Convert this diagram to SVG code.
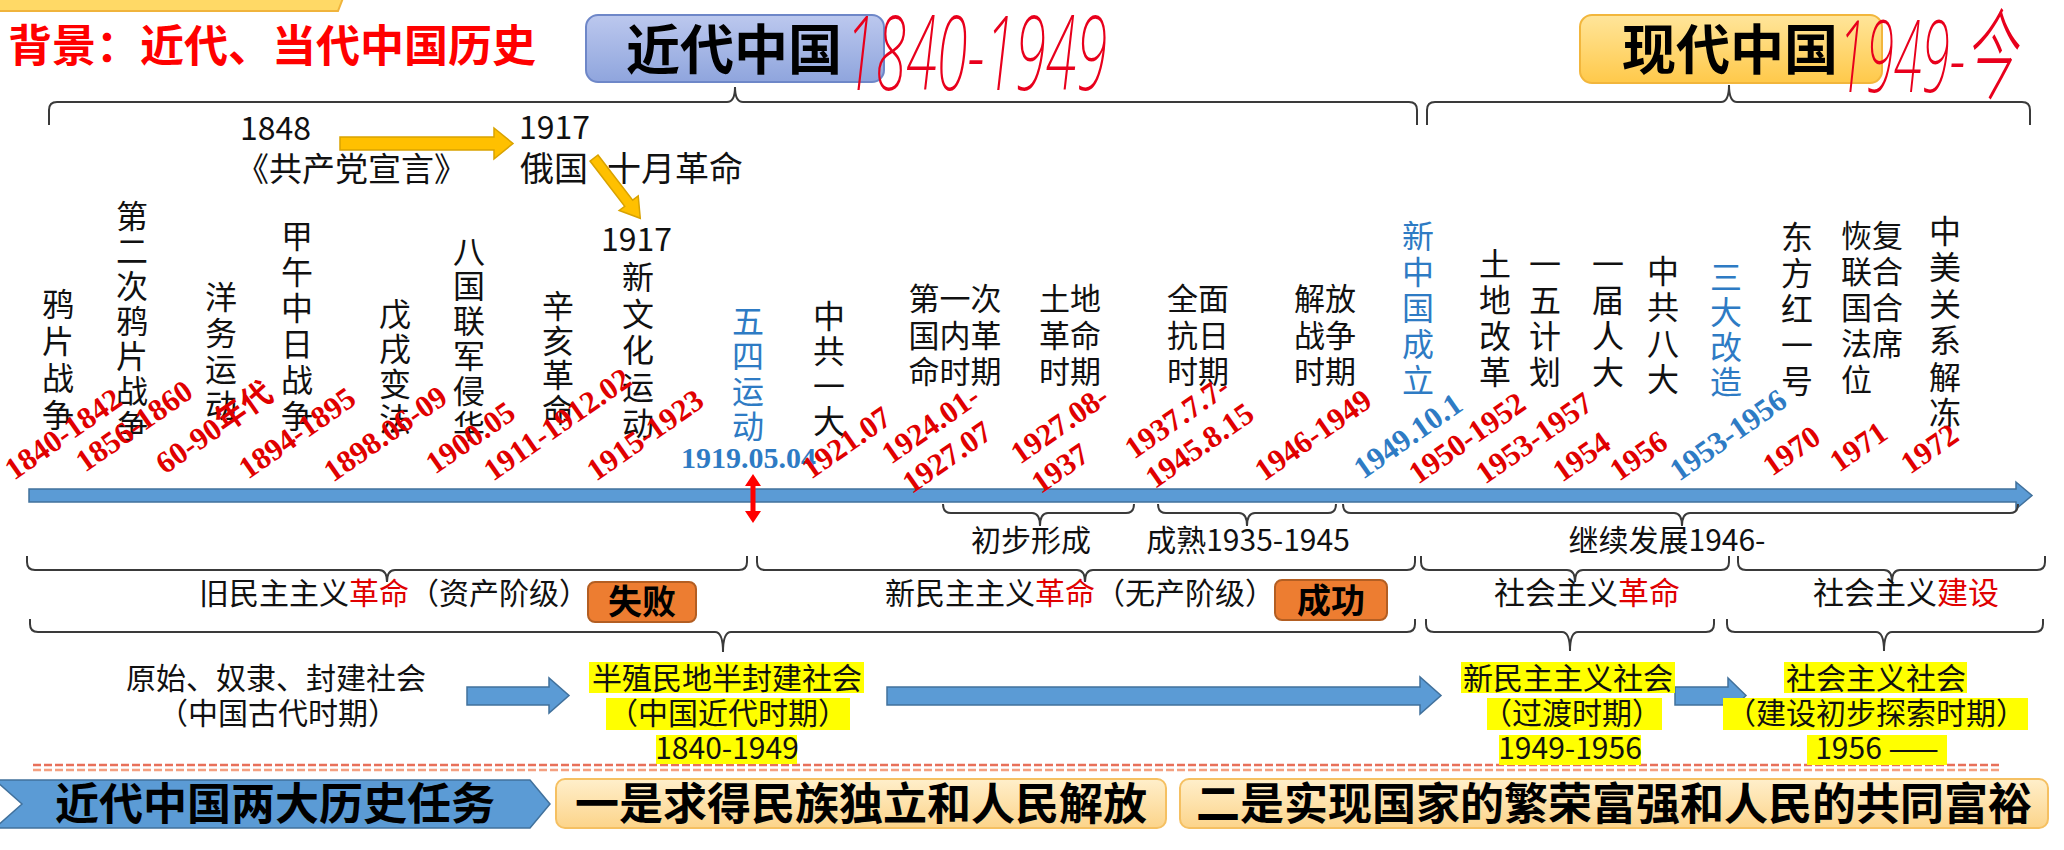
<svg xmlns="http://www.w3.org/2000/svg" width="2064" height="850" viewBox="0 0 2064 850">
<style>
.br{fill:none;stroke:#3a3a3a;stroke-width:2}
.t{font-family:"Noto Sans CJK SC","Noto Sans",sans-serif;fill:#111;font-size:30px}
.tm{text-anchor:middle}
.red{fill:#E00000}
.v{font-family:"Noto Sans CJK SC",sans-serif;font-size:32px;fill:#111;text-anchor:middle}
.d{font-family:"Liberation Serif","Noto Sans CJK SC",serif;font-weight:bold;font-size:31px;fill:#E00000}
.blue,.v.blue,.d.blue{fill:#2E7BC4}
.cjk{font-family:"Noto Sans CJK SC",sans-serif}
.hl{fill:#FFFF00}
.hw{font-family:"Noto Sans","DejaVu Sans","Noto Sans CJK SC",sans-serif;font-weight:200;font-style:italic;fill:#E8001C}
.bold{font-weight:bold}
.ya{fill:#FFC000;stroke:#D9A200;stroke-width:1.5}
.ba{fill:#5B9BD5;stroke:#41719C;stroke-width:1.5}
.ob{fill:#ED7D31;stroke:#B35E22;stroke-width:2}
</style>
<defs>
<linearGradient id="gBlue" x1="0" y1="0" x2="0" y2="1"><stop offset="0" stop-color="#BCC8EE"/><stop offset="1" stop-color="#8FA5DD"/></linearGradient>
<linearGradient id="gYel" x1="0" y1="0" x2="0" y2="1"><stop offset="0" stop-color="#FFE59A"/><stop offset="1" stop-color="#FFC94A"/></linearGradient>
<linearGradient id="gOr" x1="0" y1="0" x2="0" y2="1"><stop offset="0" stop-color="#FFEFCB"/><stop offset="1" stop-color="#FCD48A"/></linearGradient>
</defs>
<rect width="2064" height="850" fill="#FFFFFF"/>

<!-- top-left cut-off banner -->
<polygon points="-5,-20 350,-20 338,11 -5,11" fill="#FFD966" stroke="#F0B43C" stroke-width="2"/>

<text x="8" y="62" style="font-family:'Noto Sans CJK SC',sans-serif;font-size:44px;font-weight:bold;fill:#FF0000">背景：近代、当代中国历史</text>

<g id="box-modern">
<rect x="586" y="15" width="298" height="67" rx="12" fill="url(#gBlue)" stroke="#6E87C8" stroke-width="2"/>
<text class="t tm bold" x="734" y="70" style="font-size:54px;fill:#000">近代中国</text>
<text class="hw" x="845" y="90" style="font-size:104px" textLength="262" lengthAdjust="spacingAndGlyphs">1840-1949</text>
</g>

<g id="box-contemporary">
<rect x="1580" y="15" width="302" height="68" rx="12" fill="url(#gYel)" stroke="#F2B63C" stroke-width="2"/>
<text class="t tm bold" x="1730" y="70" style="font-size:54px;fill:#000">现代中国</text>
<text class="hw" x="1838" y="92" style="font-size:100px" textLength="178" lengthAdjust="spacingAndGlyphs">1949-今</text>
</g>

<g id="manifesto">
<text class="t" x="240" y="140" style="font-size:32px">1848</text>
<text class="t" x="519" y="139" style="font-size:32px">1917</text>
<text class="t" x="236" y="181" style="font-size:33px">《共产党宣言》</text>
<text class="t" x="520" y="181" style="font-size:34px">俄国</text>
<text class="t" x="607" y="181" style="font-size:34px">十月革命</text>
<text class="t" x="601" y="251" style="font-size:32px">1917</text>
</g>

<g id="connectors">
<polygon class="ya" points="340,137 494,137 494,128 513,143.5 494,159 494,150 340,150"/>
<polygon class="ya" transform="translate(594,158) rotate(52.5)" points="0,-5 57,-5 57,-12 76,0 57,12 57,5 0,5"/>
<!-- top braces -->
<path class="br" d="M49,125 L49,110 Q49,102 57,102 L727,102 Q735,102 735,87 Q735,102 743,102 L1409,102 Q1417,102 1417,110 L1417,125"/>
<path class="br" d="M1427,125 L1427,110 Q1427,102 1435,102 L1721,102 Q1729,102 1729,85 Q1729,102 1737,102 L2022,102 Q2030,102 2030,110 L2030,125"/>
<!-- timeline -->
<polygon class="ba" points="29,489 2016,489 2016,482 2032,495.5 2016,509 2016,502 29,502"/>
<polygon fill="#FF0000" points="753,474 761,486 755.5,486 755.5,511 761,511 753,523 745,511 750.5,511 750.5,486 745,486"/>
<!-- braces under timeline -->
<path class="br" d="M943,504 Q943,513 951,513 L1032,513 Q1040,513 1040,526 Q1040,513 1048,513 L1126,513 Q1134,513 1134,504"/>
<path class="br" d="M1158,504 Q1158,513 1166,513 L1239,513 Q1247,513 1247,526 Q1247,513 1255,513 L1328,513 Q1336,513 1336,504"/>
<path class="br" d="M1343,504 Q1343,513 1351,513 L1674,513 Q1682,513 1682,526 Q1682,513 1690,513 L2010,513 Q2018,513 2018,504"/>
<!-- row 2 braces -->
<path class="br" d="M27,556 L27,562 Q27,570 35,570 L379,570 Q387,570 387,582 Q387,570 395,570 L739,570 Q747,570 747,562 L747,556"/>
<path class="br" d="M757,556 L757,562 Q757,570 765,570 L1077,570 Q1085,570 1085,582 Q1085,570 1093,570 L1407,570 Q1415,570 1415,562 L1415,556"/>
<path class="br" d="M1421,556 L1421,562 Q1421,570 1429,570 L1567,570 Q1575,570 1575,582 Q1575,570 1583,570 L1721,570 Q1729,570 1729,562 L1729,556"/>
<path class="br" d="M1738,556 L1738,562 Q1738,570 1746,570 L1884,570 Q1892,570 1892,582 Q1892,570 1900,570 L2037,570 Q2045,570 2045,562 L2045,556"/>
<!-- row 3 braces -->
<path class="br" d="M30,619 L30,624 Q30,632 38,632 L715,632 Q723,632 723,652 Q723,632 731,632 L1407,632 Q1415,632 1415,624 L1415,619"/>
<path class="br" d="M1426,619 L1426,624 Q1426,632 1434,632 L1562,632 Q1570,632 1570,651 Q1570,632 1578,632 L1706,632 Q1714,632 1714,624 L1714,619"/>
<path class="br" d="M1727,619 L1727,624 Q1727,632 1735,632 L1876,632 Q1884,632 1884,651 Q1884,632 1892,632 L2035,632 Q2043,632 2043,624 L2043,619"/>
<!-- society arrows -->
<polygon class="ba" points="467,687 549,687 549,678 569,695.5 549,713 549,705 467,705"/>
<polygon class="ba" points="887,687 1420,687 1420,677 1441,695.5 1420,714 1420,705 887,705"/>
<polygon class="ba" points="1675,687 1728,687 1728,678 1746,695.5 1728,713 1728,705 1675,705"/>
<!-- dashed divider -->
<line x1="33" y1="765" x2="2001" y2="765" stroke="#E8705A" stroke-width="2.5" stroke-dasharray="8,3"/>
<line x1="33" y1="770" x2="2001" y2="770" stroke="#F4A080" stroke-width="2.5" stroke-dasharray="8,3"/>
</g>

<g id="events-modern">
<text class="v" x="58" y="316"><tspan x="58">鸦</tspan><tspan x="58" dy="37">片</tspan><tspan x="58" dy="37">战</tspan><tspan x="58" dy="37">争</tspan></text>
<text class="v" x="132" y="228"><tspan x="132">第</tspan><tspan x="132" dy="35">二</tspan><tspan x="132" dy="35">次</tspan><tspan x="132" dy="35">鸦</tspan><tspan x="132" dy="35">片</tspan><tspan x="132" dy="35">战</tspan><tspan x="132" dy="35">争</tspan></text>
<text class="v" x="221" y="309"><tspan x="221">洋</tspan><tspan x="221" dy="36">务</tspan><tspan x="221" dy="36">运</tspan><tspan x="221" dy="36">动</tspan></text>
<text class="v" x="297" y="248"><tspan x="297">甲</tspan><tspan x="297" dy="36">午</tspan><tspan x="297" dy="36">中</tspan><tspan x="297" dy="36">日</tspan><tspan x="297" dy="36">战</tspan><tspan x="297" dy="36">争</tspan></text>
<text class="v" x="395" y="326"><tspan x="395">戊</tspan><tspan x="395" dy="35">戌</tspan><tspan x="395" dy="35">变</tspan><tspan x="395" dy="35">法</tspan></text>
<text class="v" x="469" y="263"><tspan x="469">八</tspan><tspan x="469" dy="35">国</tspan><tspan x="469" dy="35">联</tspan><tspan x="469" dy="35">军</tspan><tspan x="469" dy="35">侵</tspan><tspan x="469" dy="35">华</tspan></text>
<text class="v" x="558" y="318"><tspan x="558">辛</tspan><tspan x="558" dy="34.5">亥</tspan><tspan x="558" dy="34.5">革</tspan><tspan x="558" dy="34.5">命</tspan></text>
<text class="v" x="638" y="289"><tspan x="638">新</tspan><tspan x="638" dy="36.5">文</tspan><tspan x="638" dy="36.5">化</tspan><tspan x="638" dy="36.5">运</tspan><tspan x="638" dy="36.5">动</tspan></text>
<text class="v blue" x="748" y="333"><tspan x="748">五</tspan><tspan x="748" dy="35">四</tspan><tspan x="748" dy="35">运</tspan><tspan x="748" dy="35">动</tspan></text>
<text class="v" x="829" y="328"><tspan x="829">中</tspan><tspan x="829" dy="35">共</tspan><tspan x="829" dy="35">一</tspan><tspan x="829" dy="35">大</tspan></text>
<text class="t tm" x="955" y="310" style="font-size:31px"><tspan x="955">第一次</tspan><tspan x="955" dy="36.5">国内革</tspan><tspan x="955" dy="36.5">命时期</tspan></text>
<text class="t tm" x="1070" y="310" style="font-size:31px"><tspan x="1070">土地</tspan><tspan x="1070" dy="36.5">革命</tspan><tspan x="1070" dy="36.5">时期</tspan></text>
<text class="t tm" x="1198" y="310" style="font-size:31px"><tspan x="1198">全面</tspan><tspan x="1198" dy="36.5">抗日</tspan><tspan x="1198" dy="36.5">时期</tspan></text>
<text class="t tm" x="1325" y="310" style="font-size:31px"><tspan x="1325">解放</tspan><tspan x="1325" dy="36.5">战争</tspan><tspan x="1325" dy="36.5">时期</tspan></text>
</g>

<g id="events-contemporary">
<text class="v blue" x="1418" y="248"><tspan x="1418">新</tspan><tspan x="1418" dy="36">中</tspan><tspan x="1418" dy="36">国</tspan><tspan x="1418" dy="36">成</tspan><tspan x="1418" dy="36">立</tspan></text>
<text class="v" x="1495" y="276"><tspan x="1495">土</tspan><tspan x="1495" dy="36">地</tspan><tspan x="1495" dy="36">改</tspan><tspan x="1495" dy="36">革</tspan></text>
<text class="v" x="1545" y="276"><tspan x="1545">一</tspan><tspan x="1545" dy="36">五</tspan><tspan x="1545" dy="36">计</tspan><tspan x="1545" dy="36">划</tspan></text>
<text class="v" x="1608" y="276"><tspan x="1608">一</tspan><tspan x="1608" dy="36">届</tspan><tspan x="1608" dy="36">人</tspan><tspan x="1608" dy="36">大</tspan></text>
<text class="v" x="1663" y="283"><tspan x="1663">中</tspan><tspan x="1663" dy="36">共</tspan><tspan x="1663" dy="36">八</tspan><tspan x="1663" dy="36">大</tspan></text>
<text class="v blue" x="1726" y="289"><tspan x="1726">三</tspan><tspan x="1726" dy="35">大</tspan><tspan x="1726" dy="35">改</tspan><tspan x="1726" dy="35">造</tspan></text>
<text class="v" x="1797" y="249"><tspan x="1797">东</tspan><tspan x="1797" dy="36">方</tspan><tspan x="1797" dy="36">红</tspan><tspan x="1797" dy="36">一</tspan><tspan x="1797" dy="36">号</tspan></text>
<text class="t" x="1841" y="247" style="font-size:31px"><tspan x="1841">恢复</tspan><tspan x="1841" dy="36">联合</tspan><tspan x="1841" dy="36">国合</tspan><tspan x="1841" dy="36">法席</tspan><tspan x="1841" dy="36">位</tspan></text>
<text class="v" x="1945" y="243"><tspan x="1945">中</tspan><tspan x="1945" dy="36.4">美</tspan><tspan x="1945" dy="36.4">关</tspan><tspan x="1945" dy="36.4">系</tspan><tspan x="1945" dy="36.4">解</tspan><tspan x="1945" dy="36.4">冻</tspan></text>
</g>

<g id="dates">
<text class="d" transform="translate(14,481) rotate(-35)">1840-1842</text>
<text class="d" transform="translate(85,473) rotate(-35)">1856-1860</text>
<text class="d" transform="translate(165,475) rotate(-35)">60-90<tspan class="cjk">年代</tspan></text>
<text class="d" transform="translate(248,480) rotate(-35)">1894-1895</text>
<text class="d" transform="translate(333,483) rotate(-35)">1898.06-09</text>
<text class="d" transform="translate(435,475) rotate(-35)">1900.05</text>
<text class="d" transform="translate(493,482) rotate(-35)">1911-1912.02</text>
<text class="d" transform="translate(596,482) rotate(-35)">1915-1923</text>
<text class="d blue" x="681" y="468" style="font-size:30px">1919.05.04</text>
<text class="d" transform="translate(811,480) rotate(-35)">1921.07</text>
<text class="d" transform="translate(891,465) rotate(-35)"><tspan x="0">1924.01-</tspan><tspan x="0" dy="36">1927.07</tspan></text>
<text class="d" transform="translate(1020,465) rotate(-35)"><tspan x="0">1927.08-</tspan><tspan x="0" dy="36">1937</tspan></text>
<text class="d" transform="translate(1134,460) rotate(-35)"><tspan x="0">1937.7.7-</tspan><tspan x="0" dy="36">1945.8.15</tspan></text>
<text class="d" transform="translate(1264,482) rotate(-35)">1946-1949</text>
<text class="d blue" transform="translate(1363,480) rotate(-35)">1949.10.1</text>
<text class="d" transform="translate(1418,485) rotate(-35)">1950-1952</text>
<text class="d" transform="translate(1485,485) rotate(-35)">1953-1957</text>
<text class="d" transform="translate(1562,483) rotate(-35)">1954</text>
<text class="d" transform="translate(1619,482) rotate(-35)">1956</text>
<text class="d blue" transform="translate(1679,482) rotate(-35)">1953-1956</text>
<text class="d" transform="translate(1772,477) rotate(-35)">1970</text>
<text class="d" transform="translate(1839,473) rotate(-35)">1971</text>
<text class="d" transform="translate(1910,475) rotate(-35)">1972</text>
</g>

<g id="stages">
<text class="t tm" x="1031" y="551">初步形成</text>
<text class="t tm" x="1248" y="551">成熟1935-1945</text>
<text class="t tm" x="1667" y="551">继续发展1946-</text>
</g>

<g id="revolutions">
<text class="t" x="199" y="604">旧民主主义<tspan class="red">革命</tspan>（资产阶级）</text>
<g id="fail"><rect class="ob" x="588" y="582" width="108" height="40" rx="7"/><text class="t tm bold" x="642" y="614" style="font-size:34px;fill:#000">失败</text></g>
<text class="t" x="885" y="604">新民主主义<tspan class="red">革命</tspan>（无产阶级）</text>
<g id="success"><rect class="ob" x="1275" y="580" width="112" height="40" rx="7"/><text class="t tm bold" x="1331" y="613" style="font-size:34px;fill:#000">成功</text></g>
<text class="t" x="1494" y="604" style="font-size:31px">社会主义<tspan class="red">革命</tspan></text>
<text class="t" x="1813" y="604" style="font-size:31px">社会主义<tspan class="red">建设</tspan></text>
</g>

<g id="society-ancient">
<text class="t tm" x="276" y="689">原始、奴隶、封建社会</text>
<text class="t tm" x="278" y="724">（中国古代时期）</text>
</g>
<g id="society-semi">
<rect class="hl" x="589" y="662" width="275" height="31"/>
<rect class="hl" x="606" y="698" width="244" height="32"/>
<rect class="hl" x="656" y="735" width="141" height="29"/>
<text class="t tm" x="727" y="689">半殖民地半封建社会</text>
<text class="t tm" x="728" y="724">（中国近代时期）</text>
<text class="t tm" x="727" y="759">1840-1949</text>
</g>
<g id="society-newdem">
<rect class="hl" x="1461" y="662" width="214" height="31"/>
<rect class="hl" x="1487" y="698" width="175" height="32"/>
<rect class="hl" x="1499" y="735" width="142" height="30"/>
<text class="t tm" x="1568" y="689">新民主主义社会</text>
<text class="t tm" x="1572" y="724">（过渡时期）</text>
<text class="t tm" x="1570" y="759">1949-1956</text>
</g>
<g id="society-socialist">
<rect class="hl" x="1784" y="662" width="183" height="31"/>
<rect class="hl" x="1723" y="698" width="305" height="32"/>
<rect class="hl" x="1807" y="735" width="140" height="30"/>
<text class="t tm" x="1876" y="689">社会主义社会</text>
<text class="t tm" x="1876" y="724">（建设初步探索时期）</text>
<text class="t tm" x="1877" y="759">1956 ——</text>
</g>

<g id="tasks">
<polygon class="ba" points="-5,780 530,780 550,804 530,828 -5,828 22,804"/>
<text class="t bold" x="55" y="820" style="font-size:44px;fill:#000">近代中国两大历史任务</text>
<rect x="556" y="779" width="610" height="49" rx="9" fill="url(#gOr)" stroke="#F5C062" stroke-width="2"/>
<text class="t bold" x="575" y="820" style="font-size:44px;fill:#000">一是求得民族独立和人民解放</text>
<rect x="1180" y="779" width="868" height="49" rx="9" fill="url(#gOr)" stroke="#F5C062" stroke-width="2"/>
<text class="t bold" x="1196" y="820" style="font-size:44px;fill:#000">二是实现国家的繁荣富强和人民的共同富裕</text>
</g>
</svg>
